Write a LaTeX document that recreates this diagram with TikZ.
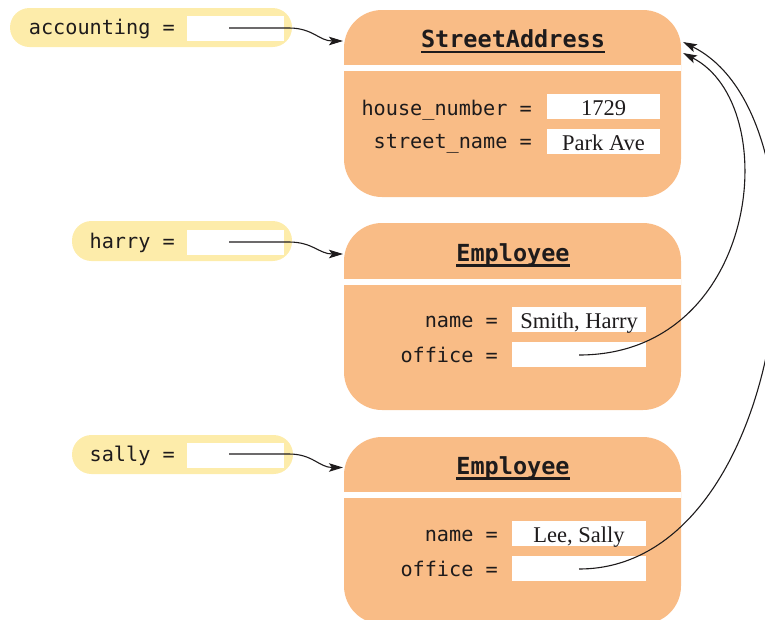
\documentclass[tikz,border=0pt]{standalone}
\usepackage{fontspec}
\setmainfont{Liberation Serif}
\newfontfamily\monof{DejaVu Sans Mono}
\usetikzlibrary{arrows.meta}
\definecolor{boxor}{RGB}{249,188,134}
\definecolor{pillyel}{RGB}{253,236,170}
\definecolor{ink}{RGB}{30,27,28}
\newcommand\ulbox[2]{\sbox0{#2}\rlap{\usebox0}\rule[#1]{\wd0}{2.4pt}}
\tikzset{
  classbox/.style={fill=boxor, rounded corners=38pt, inner sep=0pt, minimum width=337pt, minimum height=187pt},
  pill/.style={fill=pillyel, rounded corners=19.5pt, inner sep=0pt},
  valbox/.style={fill=white, inner sep=0pt, text height=19pt, text depth=2pt, text=ink, font=\fontsize{22.5}{24}\selectfont},
  lbl/.style={inner sep=0pt, text=ink, font=\monof\fontsize{20.2}{22}\selectfont},
  ttl/.style={inner sep=0pt, text=ink, font=\monof\bfseries\fontsize{23.5}{26}\selectfont},
  ptr/.style={draw=ink, line width=1.1pt, -{Stealth[length=14pt,width=8.5pt,inset=3pt]}},
}
\begin{document}
\begin{tikzpicture}[x=1pt,y=-1pt]
\useasboundingbox (0,0) rectangle (765,619);
% pills
\node[pill, minimum width=282pt, minimum height=39pt] (accpill) at (151,27.5) {};
\node[pill, minimum width=220pt, minimum height=40pt] (harpill) at (182,241) {};
\node[pill, minimum width=221pt, minimum height=39pt] (salpill) at (182.5,454.5) {};
\node[valbox, minimum width=97pt, minimum height=25pt] (accv) at (235.5,28.5) {};
\node[valbox, minimum width=97pt, minimum height=25pt] (harv) at (235.5,242.5) {};
\node[valbox, minimum width=97pt, minimum height=25pt] (salv) at (235.5,455.5) {};
\node[lbl, anchor=base east] (accl) at (175,34) {accounting =};
\node[lbl, anchor=base east] (harl) at (175,248) {harry =};
\node[lbl, anchor=base east] (sall) at (175,461) {sally =};
% class boxes
\node[classbox] (sa) at (512.5,103.5) {};
\node[classbox] (e1) at (512.5,316.5) {};
\node[classbox] (e2) at (512.5,530.5) {};
\fill[white] (344,65) rectangle (681,71);
\fill[white] (344,279) rectangle (681,285);
\fill[white] (344,492) rectangle (681,498);
\node[ttl, anchor=base] (sat) at (513,47) {\ulbox{-6pt}{StreetAddress}};
\node[ttl, anchor=base] (e1t) at (513,261) {\ulbox{-5.5pt}{Employee}};
\node[ttl, anchor=base] (e2t) at (513,474) {\ulbox{-5.5pt}{Employee}};
% StreetAddress fields
\node[lbl, anchor=base east] (hnl) at (532,115) {house\_number =};
\node[lbl, anchor=base east] (snl) at (532,148) {street\_name =};
\node[valbox, minimum width=113pt, minimum height=25pt] (hnv) at (603.5,106.5) {1729};
\node[valbox, minimum width=113pt, minimum height=25pt] (snv) at (603.5,141.5) {Park Ave};
% Employee 1 fields
\node[lbl, anchor=base east] (e1nl) at (498,327) {name =};
\node[lbl, anchor=base east] (e1ol) at (498,362) {office =};
\node[valbox, minimum width=134pt, minimum height=25pt] (e1nv) at (579,319.5) {Smith, Harry};
\node[valbox, minimum width=134pt, minimum height=25pt] (e1ov) at (579,354.5) {};
% Employee 2 fields
\node[lbl, anchor=base east] (e2nl) at (498,541) {name =};
\node[lbl, anchor=base east] (e2ol) at (498,576) {office =};
\node[valbox, minimum width=134pt, minimum height=25pt] (e2nv) at (579,533.5) {Lee, Sally};
\node[valbox, minimum width=134pt, minimum height=25pt] (e2ov) at (579,568.5) {};
% connector ends
\coordinate (accsrc) at (229,28);
\coordinate (harsrc) at (229,242);
\coordinate (salsrc) at (229,454);
\coordinate (sain) at (343,41);
\coordinate (e1in) at (343,254);
\coordinate (e2in) at (343,467.5);
\coordinate (e1src) at (579,355);
\coordinate (e2src) at (579,569);
\coordinate (sainA) at (683,53);
\coordinate (sainB) at (683,42);
% connectors
\draw[ptr] (accsrc) -- ++(60,0) .. controls +(24,0) and +(-24,0) .. (sain);
\draw[ptr] (harsrc) -- ++(60,0) .. controls +(24,0) and +(-24,0) .. (e1in);
\draw[ptr] (salsrc) -- ++(60,0) .. controls +(24,0) and +(-24,0) .. (e2in);
\draw[ptr] (e1src) .. controls (760,355) and (785,105) .. (sainA);
\draw[ptr] (e2src) .. controls (790,569) and (840,120) .. (sainB);
\end{tikzpicture}
\end{document}
